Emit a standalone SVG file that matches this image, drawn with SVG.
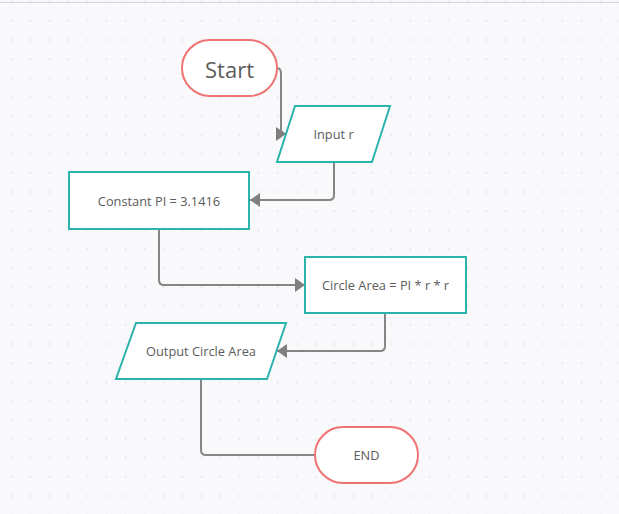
<svg xmlns="http://www.w3.org/2000/svg" width="619" height="514" viewBox="0 0 619 514">
<style>
.term{fill:#ffffff;stroke:#f07373;stroke-width:2}
.proc{fill:#ffffff;stroke:#2bb3ac;stroke-width:2}
.lbl{font-family:"Open Sans","Noto Sans",sans-serif;fill:#5b5b5b;text-anchor:middle;dominant-baseline:central;font-size:12.8px}
.conn{fill:none;stroke:#858585;stroke-width:2}
</style>
<defs>
<pattern id="dots" patternUnits="userSpaceOnUse" x="2" y="-7.5" width="19" height="19">
<circle cx="9.5" cy="9.5" r="1" fill="#e1e1e7"/>
</pattern>
<marker id="arr" viewBox="0 0 10 14" refX="10" refY="7" markerWidth="10" markerHeight="14" markerUnits="userSpaceOnUse" orient="auto">
<path d="M0,0 L10,7 L0,14 Z" fill="#7f7f7f"/>
</marker>
</defs>
<rect x="0" y="0" width="619" height="514" fill="#f9f9fb"/>
<rect x="0" y="0" width="619" height="514" fill="url(#dots)"/>
<line x1="0" y1="2.5" x2="619" y2="2.5" stroke="#d6d2e8" stroke-width="1"/>
<g id="connectors">
<path class="conn" d="M277,68 Q281,68 281,74 L281,129 Q281,134 286,134" marker-end="url(#arr)"/>
<path class="conn" d="M334,162 L334,195 Q334,200 329,200 L250,200" marker-end="url(#arr)"/>
<path class="conn" d="M159,229 L159,280 Q159,285 164,285 L305,285" marker-end="url(#arr)"/>
<path class="conn" d="M385,313 L385,346 Q385,351 380,351 L277,351" marker-end="url(#arr)"/>
<path class="conn" d="M201,379 L201,450 Q201,455 206,455 L315,455"/>
</g>
<g id="start">
<rect class="term" x="182" y="40" width="95" height="56" rx="28"/>
<text class="lbl" x="229.5" y="69" style="font-size:22px">Start</text>
</g>
<g id="input">
<polygon class="proc" points="295,106 390,106 372,162 277,162"/>
<text class="lbl" x="333.5" y="134">Input r</text>
</g>
<g id="constant">
<rect class="proc" x="69" y="172" width="180" height="57"/>
<text class="lbl" x="159" y="200.5">Constant PI = 3.1416</text>
</g>
<g id="area">
<rect class="proc" x="305" y="257" width="161" height="56"/>
<text class="lbl" x="385.5" y="285">Circle Area = PI * r * r</text>
</g>
<g id="output">
<polygon class="proc" points="136,323 286,323 267,379 116,379"/>
<text class="lbl" x="201" y="351">Output Circle Area</text>
</g>
<g id="end">
<rect class="term" x="315" y="427" width="103" height="56" rx="28"/>
<text class="lbl" x="366.5" y="455">END</text>
</g>
</svg>
